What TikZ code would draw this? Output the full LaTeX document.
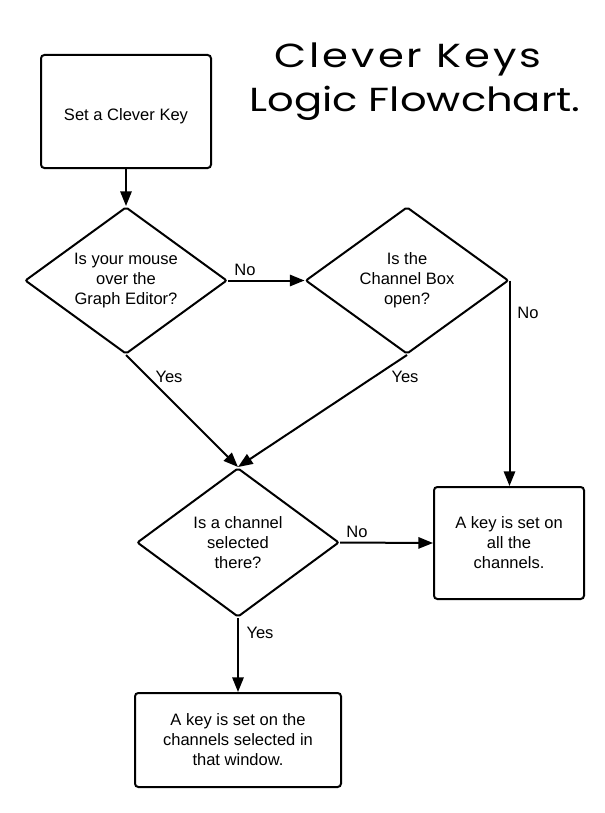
\documentclass[tikz,border=0pt]{standalone}
\usepackage{fontspec}
\setmainfont{Liberation Sans}
\newfontfamily\titlefont[FakeStretch=1.25]{Poppins}
\newfontfamily\titlefontwide[FakeStretch=1.25,LetterSpace=9]{Poppins}
\usetikzlibrary{shapes.geometric,arrows.meta}

\begin{document}
\begin{tikzpicture}[
        x=0.75pt, y=-0.75pt,
        line width=1.5pt,
        font=\fontsize{12.4}{15}\selectfont,
        box/.style={draw, rounded corners=2.5pt, align=center},
        decision/.style={draw, diamond, aspect=1.37, inner sep=0pt,
            align=center, rounded corners=1.5pt},
        arr/.style={-{Triangle[length=11pt,width=8.5pt]}},
        lbl/.style={inner sep=0pt}
    ]
            \useasboundingbox (0,0) rectangle (604,813);

            % title
            \node[
                anchor=base,
                font=\titlefontwide\fontsize{25}{30}\selectfont,
                name=title1
            ] at (408,68) {Clever Keys};
            \node[
                anchor=base,
                font=\titlefont\fontsize{25}{30}\selectfont,
                name=title2
            ] at (415,112) {Logic Flowchart.};

            % boxes
            \node[
                box,
                minimum width=127.5pt,
                minimum height=84.75pt,
                name=start
            ] at (126,111.5) {\raisebox{-3.5pt}[\height][\depth]{Set a Clever Key}};
            \node[
                box,
                minimum width=112.5pt,
                minimum height=84pt,
                name=allkeys
            ] at (509,543) {A key is set on\\all the\\channels.};
            \node[
                box,
                minimum width=154.5pt,
                minimum height=70.5pt,
                name=selkeys
            ] at (238,740) {A key is set on the\\channels selected in\\that window.};

            % decisions
            \node[
                decision,
                minimum width=151.5pt,
                minimum height=110.25pt,
                name=mouse
            ] at (126,280.5) {Is your mouse\\over the\\Graph Editor?};
            \node[
                decision,
                minimum width=152.25pt,
                minimum height=110.25pt,
                name=chbox
            ] at (407,280.5) {Is the\\Channel Box\\open?};
            \node[
                decision,
                minimum width=151.5pt,
                minimum height=111.75pt,
                name=chsel
            ] at (238,542.5) {Is a channel\\selected\\there?};

            % connectors
            \draw[arr] (start) -- (mouse);
            \draw[arr] (mouse.east) -- (chbox.west);
            \draw[arr] (chbox.east) -- (chbox.east |- allkeys.north);
            \draw[arr] (mouse.south) -- (chsel.north);
            \draw[arr] (chbox.south) -- (chsel.north);
            \draw[arr] (chsel.east) -- (allkeys.west);
            \draw[arr] (chsel.south) -- (selkeys.north);

            % labels
            \node[lbl, name=no1] at (245,270) {No};
            \node[lbl, name=no2] at (528,313) {No};
            \node[lbl, name=yes1] at (169,377) {Yes};
            \node[lbl, name=yes2] at (405,377) {Yes};
            \node[lbl, name=no3] at (357,532) {No};
            \node[lbl, name=yes3] at (260,633) {Yes};
        \end{tikzpicture}
\end{document}
